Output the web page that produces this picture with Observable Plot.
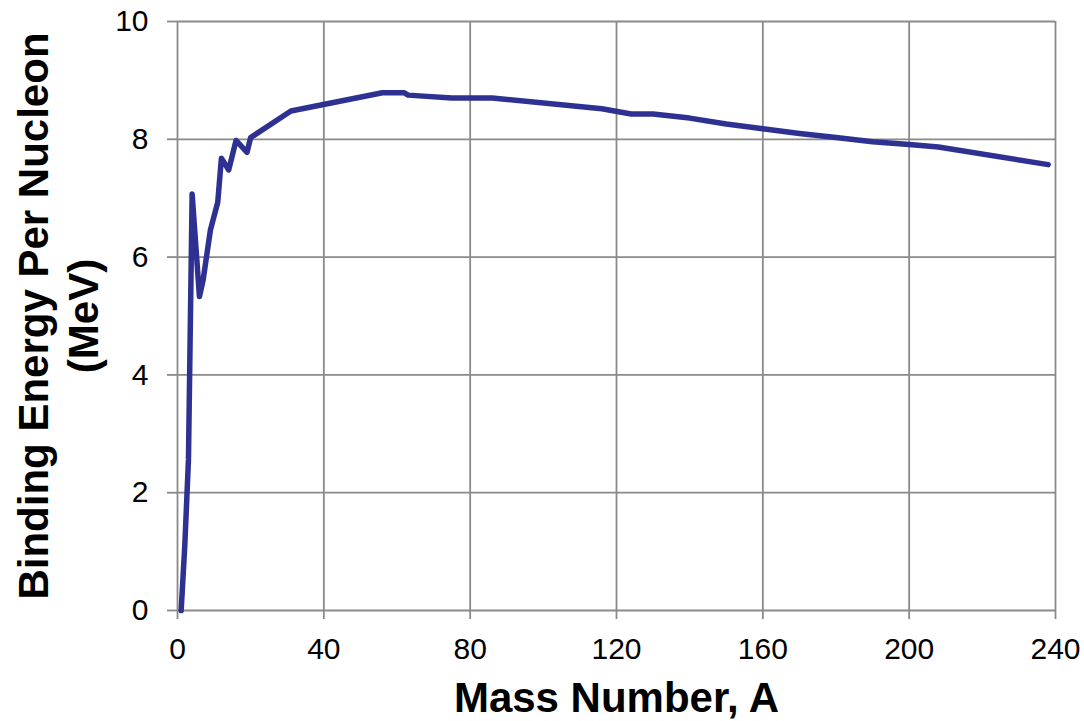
<!DOCTYPE html>
<html><head><meta charset="utf-8">
<script src="https://cdn.jsdelivr.net/npm/d3@7"></script>
<script src="https://cdn.jsdelivr.net/npm/@observablehq/plot@0.6"></script>
<style>body{margin:0;background:#fff}</style>
</head><body><div id="chart"></div>
<script>
const massNumber = [1,2,3,4,6,7,9,11,12,14,16,19,20,31,56,62,63,75,86,116,124,130,140,150,160,170,180,190,200,208,238];
const bindingEnergy = [0,1.11,2.57,7.07,5.33,5.61,6.46,6.93,7.68,7.48,7.98,7.78,8.03,8.48,8.79,8.79,8.75,8.70,8.70,8.52,8.43,8.43,8.36,8.26,8.18,8.10,8.03,7.96,7.91,7.87,7.57];
const xTicks = [0,40,80,120,160,200,240];
const yTicks = [0,2,4,6,8,10];
const xTitle = ["Mass Number, A"];
const yTitle1 = ["Binding Energy Per Nucleon"];
const yTitle2 = ["(MeV)"];

const data = massNumber.map((a, i) => ({a, be: bindingEnergy[i]}));
const gridColor = "#8a8a8a";

const plot = Plot.plot({
  width: 1084, height: 721,
  marginLeft: 177, marginRight: 29, marginTop: 21, marginBottom: 111,
  style: {fontFamily: "'Liberation Sans', Arial, sans-serif", background: "#fff", color: "#000"},
  x: {domain: [0, 240]},
  y: {domain: [0, 10]},
  marks: [
    Plot.gridX(xTicks, {stroke: gridColor, strokeOpacity: 1, strokeWidth: 1.8}),
    Plot.gridY(yTicks, {stroke: gridColor, strokeOpacity: 1, strokeWidth: 1.8}),
    Plot.axisX(xTicks, {tickSize: 9, tickPadding: 18, fontSize: 30, stroke: gridColor, strokeWidth: 1.8, fill: "#000", label: null, tickFormat: d => String(d)}),
    Plot.axisY(yTicks, {tickSize: 10, tickPadding: 19, fontSize: 30, stroke: gridColor, strokeWidth: 1.8, fill: "#000", label: null, tickFormat: d => String(d)}),
    Plot.line(data, {x: "a", y: "be", stroke: "#2e3192", strokeWidth: 5.5, strokeLinejoin: "round", strokeLinecap: "round"}),
    Plot.text(xTitle, {text: d => d, frameAnchor: "bottom", textAnchor: "middle", lineAnchor: "top", dy: 72, fontSize: 42, fontWeight: "bold", fill: "#000"}),
    Plot.text(yTitle1, {text: d => d, frameAnchor: "left", textAnchor: "middle", rotate: -90, lineAnchor: "middle", dx: -143, fontSize: 42, fontWeight: "bold", fill: "#000"}),
    Plot.text(yTitle2, {text: d => d, frameAnchor: "left", textAnchor: "middle", rotate: -90, lineAnchor: "middle", dx: -93, fontSize: 42, fontWeight: "bold", fill: "#000"})
  ]
});
document.getElementById("chart").appendChild(plot);
</script>
</body></html>
